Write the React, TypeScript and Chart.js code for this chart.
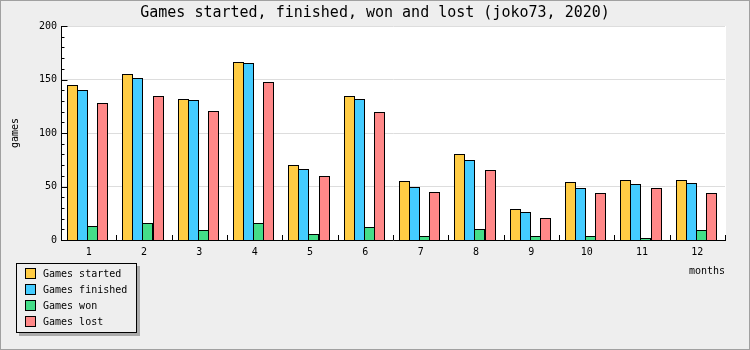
import React, { useEffect, useRef } from "react";
import { Chart, registerables } from "chart.js";

Chart.register(...registerables);

const months = ["1", "2", "3", "4", "5", "6", "7", "8", "9", "10", "11", "12"];
const started = [145, 155, 132, 166, 70, 135, 55, 80, 29, 54, 56, 56];
const finished = [140, 151, 131, 165, 66, 132, 50, 75, 26, 49, 52, 53];
const won = [13, 16, 9, 16, 6, 12, 4, 10, 4, 4, 2, 9];
const lost = [128, 135, 121, 148, 60, 120, 45, 65, 21, 44, 49, 44];
const yTickLabels = [0, 50, 100, 150, 200];

const titleText = "Games started, finished, won and lost (joko73, 2020)";
const MONO = "'DejaVu Sans Mono', 'Liberation Mono', monospace";

const bgPlugin = {
  id: "bgPlugin",
  beforeDraw(chart: any) {
    const { ctx, chartArea } = chart;
    ctx.save();
    ctx.fillStyle = "#eeeeee";
    ctx.fillRect(0, 0, chart.width, chart.height);
    ctx.fillStyle = "#ffffff";
    ctx.fillRect(chartArea.left, chartArea.top, chartArea.right - chartArea.left + 1, chartArea.bottom - chartArea.top);
    ctx.strokeStyle = "#a0a0a0";
    ctx.lineWidth = 1;
    ctx.strokeRect(0.5, 0.5, chart.width - 1, chart.height - 1);
    ctx.fillStyle = "#000000";
    ctx.font = `15px ${MONO}`;
    ctx.textAlign = "center";
    ctx.textBaseline = "middle";
    ctx.fillText(titleText, chart.width / 2, 13);
    ctx.restore();
  },
};

// snap bar elements computed by the library to whole pixels for crisp edges
const snapPlugin = {
  id: "snapBars",
  beforeDatasetsDraw(chart: any) {
    chart.data.datasets.forEach((_: any, di: number) => {
      const meta = chart.getDatasetMeta(di);
      meta.data.forEach((el: any) => {
        const w = Math.round(el.width);
        const left = Math.round(el.x - el.width / 2 - 1);
        el.width = w;
        el.x = left + w / 2;
        el.y = Math.round(el.y);
        el.base = Math.round(el.base);
      });
    });
  },
};

const tickPlugin = {
  id: "tickPlugin",
  afterDatasetsDraw(chart: any) {
    const { ctx } = chart;
    const y = chart.scales.y;
    const x = chart.scales.x;
    ctx.save();
    ctx.strokeStyle = "#000000";
    ctx.lineWidth = 1;
    ctx.beginPath();
    const left = Math.round(y.right) + 0.5;
    for (let v = 0; v <= 200; v += 10) {
      const py = Math.round(y.getPixelForValue(v)) + 0.5;
      const len = v % 50 === 0 ? 6 : 3;
      ctx.moveTo(left - 0.5, py);
      ctx.lineTo(left + len, py);
    }
    const n = months.length;
    const step = x.getPixelForValue(1) - x.getPixelForValue(0);
    const bottom = Math.round(x.top);
    for (let i = 0; i <= n; i++) {
      const px = Math.round(x.getPixelForValue(0) - step / 2 + i * step) + 0.5;
      ctx.moveTo(px, bottom);
      ctx.lineTo(px, bottom - 5);
    }
    ctx.stroke();
    ctx.restore();
  },
};

const legendPlugin = {
  id: "boxLegend",
  afterDraw(chart: any) {
    const { ctx } = chart;
    const items = chart.data.datasets;
    const bx = 16, by = 263, bw = 120, bh = 69;
    ctx.save();
    ctx.fillStyle = "#aaaaaa";
    ctx.fillRect(bx + 3, by + 3, bw + 1, bh + 1);
    ctx.fillStyle = "#eeeeee";
    ctx.fillRect(bx, by, bw + 1, bh + 1);
    ctx.strokeStyle = "#000000";
    ctx.lineWidth = 1;
    ctx.strokeRect(bx + 0.5, by + 0.5, bw, bh);
    ctx.font = `10px ${MONO}`;
    ctx.textAlign = "left";
    ctx.textBaseline = "middle";
    items.forEach((ds: any, i: number) => {
      const sy = 268 + i * 16;
      ctx.fillStyle = ds.backgroundColor;
      ctx.fillRect(25, sy, 11, 11);
      ctx.strokeStyle = "#000000";
      ctx.strokeRect(25.5, sy + 0.5, 10, 10);
      ctx.fillStyle = "#000000";
      ctx.fillText(ds.label, 43, sy + 6);
    });
    ctx.restore();
  },
};

export default function App() {
  const ref = useRef<HTMLCanvasElement>(null);
  useEffect(() => {
    if (!ref.current) return;
    const common = {
      borderColor: "#000000",
      borderWidth: 1,
      categoryPercentage: 0.723,
      barPercentage: 1.1,
      inflateAmount: 0,
    };
    const chart = new Chart(ref.current, {
      type: "bar",
      data: {
        labels: months,
        datasets: [
          { label: "Games started", data: started, backgroundColor: "#ffcc44", ...common },
          { label: "Games finished", data: finished, backgroundColor: "#44ccff", ...common },
          { label: "Games won", data: won, backgroundColor: "#44dd88", ...common },
          { label: "Games lost", data: lost, backgroundColor: "#ff8888", ...common },
        ],
      },
      options: {
        responsive: false,
        animation: false,
        devicePixelRatio: 1,
        layout: { padding: { top: 26, right: 25, left: 0, bottom: 0 } },
        plugins: {
          legend: { display: false },
          title: { display: false },
          tooltip: { enabled: false },
        },
        scales: {
          x: {
            type: "category",
            offset: true,
            grid: { display: false, drawTicks: false },
            border: { display: true, color: "#000000", width: 1 },
            ticks: {
              color: "#000000",
              font: { family: MONO, size: 10 },
              padding: 6,
              autoSkip: false,
              maxRotation: 0,
            },
            title: {
              display: true,
              text: "months",
              align: "end",
              color: "#000000",
              font: { family: MONO, size: 10 },
              padding: { top: 0, bottom: 73 },
            },
            afterFit(scale: any) {
              scale.height = 110;
            },
          },
          y: {
            min: 0,
            max: 200,
            afterBuildTicks(scale: any) {
              scale.ticks = yTickLabels.map((v) => ({ value: v }));
            },
            grid: { color: "#dddddd", drawTicks: false },
            border: { display: true, color: "#000000", width: 1 },
            ticks: {
              color: "#000000",
              font: { family: MONO, size: 10 },
              padding: 4,
            },
            title: {
              display: true,
              text: "games",
              color: "#000000",
              font: { family: MONO, size: 10 },
              padding: { top: 9, bottom: 0 },
            },
            afterFit(scale: any) {
              scale.width = 61;
            },
          },
        },
      } as any,
      plugins: [bgPlugin, snapPlugin, tickPlugin, legendPlugin],
    });
    return () => chart.destroy();
  }, []);
  return (
    <div style={{ position: "fixed", left: 0, top: 0, width: 750, height: 350 }}>
      <canvas ref={ref} width={750} height={350} style={{ display: "block" }} />
    </div>
  );
}
